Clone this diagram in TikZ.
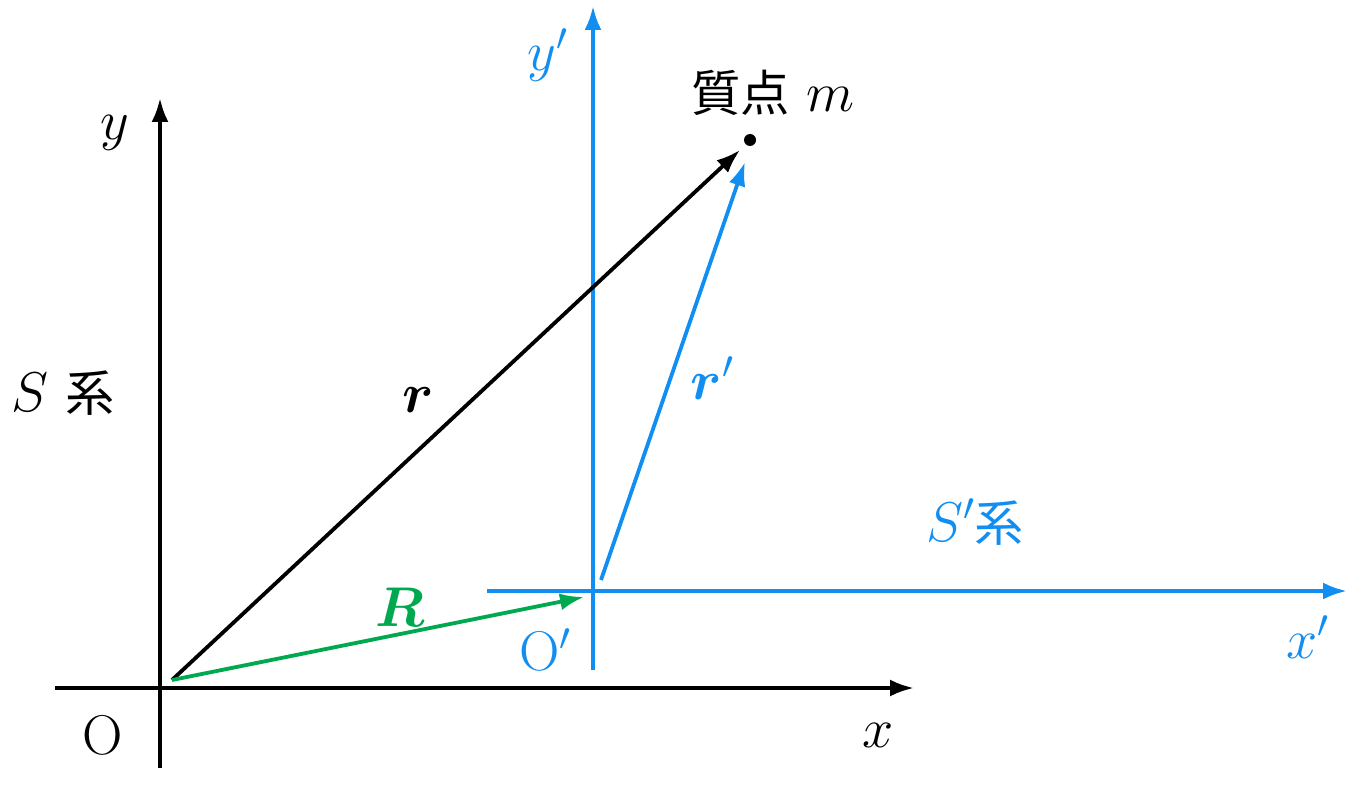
\RequirePackage{fix-cm}
\documentclass[tikz,border=0pt]{standalone}
\usepackage{amsmath,bm}
\usepackage{fontspec}
\newfontfamily\cjk[Scale=0.88]{Noto Sans CJK JP}
\usetikzlibrary{arrows.meta}
\definecolor{sblue}{RGB}{17,142,242}
\definecolor{sgreen}{RGB}{0,168,80}
\begin{document}
\begin{tikzpicture}[x=1pt,y=-1pt,
  axis/.style={line width=3.8pt,-{Latex[length=24pt,width=17pt]}},
  vec/.style={line width=3.8pt,-{Latex[length=24pt,width=17pt]}},
  lab/.style={font=\fontsize{56}{64}\selectfont, inner sep=0pt}]
\useasboundingbox (0,0) rectangle (1356,786);
% S frame
\coordinate (xs) at (55,688); \coordinate (xe) at (914,688);
\coordinate (ys) at (160,768); \coordinate (ye) at (160,98);
\draw[axis] (xs) -- (xe);
\draw[axis] (ys) -- (ye);
% S' frame
\coordinate (xps) at (487,591); \coordinate (xpe) at (1347,591);
\coordinate (yps) at (593,670); \coordinate (ype) at (593,6);
\draw[axis,sblue] (xps) -- (xpe);
\draw[axis,sblue] (yps) -- (ype);
% points
\coordinate (O) at (172,680);
\node[circle,fill,inner sep=0pt,minimum size=12pt] (m) at (750,140) {};
\coordinate (rend) at (740,150);
\coordinate (Rend) at (584,597);
\coordinate (rps) at (601,580);
\coordinate (rpe) at (745,162);
\draw[vec] (O) -- (rend);
\draw[vec,sgreen] (O) -- (Rend);
\draw[vec,sblue] (rps) -- (rpe);
% labels
\node[lab] (ly) at (115,133) {$y$};
\node[lab] (lx) at (878,735) {$x$};
\node[lab] (lO) at (103,735) {O};
\node[lab] (lS) at (63,393) {$S$\ {\cjk 系}};
\node[lab,sblue] (lyp) at (548,55) {$y'$};
\node[lab,sblue] (lxp) at (1308,637) {$x'$};
\node[lab,sblue] (lOp) at (545,650) {O$'$};
\node[lab,sblue] (lSp) at (975,522) {$S'${\cjk 系}};
\node[lab] (lm) at (773,93) {{\cjk 質点}\ $m$};
\node[lab] (lr) at (418,400) {$\bm{r}$};
\node[lab,sgreen] (lR) at (400,607) {$\bm{R}$};
\node[lab,sblue] (lrp) at (712,378) {$\bm{r}'$};
\end{tikzpicture}
\end{document}
